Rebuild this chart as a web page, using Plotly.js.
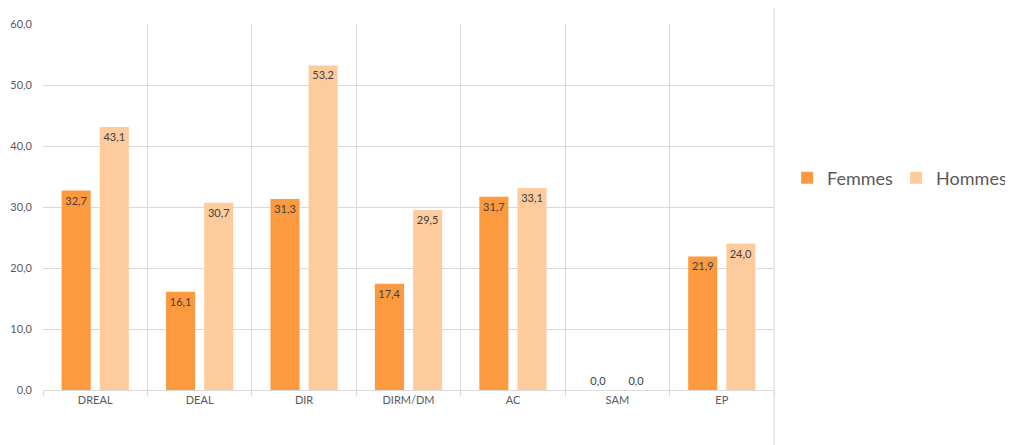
<!DOCTYPE html>
<html>
<head>
<meta charset="utf-8">
<script src="https://cdn.plot.ly/plotly-3.0.1.min.js"></script>
<style>html,body{margin:0;padding:0;background:#fff;}</style>
</head>
<body>
<div id="chart" style="width:1013px;height:445px;"></div>
<script>
const categories = ["DREAL", "DEAL", "DIR", "DIRM/DM", "AC", "SAM", "EP"];
const femmes = [32.7, 16.1, 31.3, 17.4, 31.7, 0.0, 21.9];
const hommes = [43.1, 30.7, 53.2, 29.5, 33.1, 0.0, 24.0];
const seriesNames = ["Femmes", "Hommes"];
const yTicks = [0, 10, 20, 30, 40, 50, 60];

const fontFam = "Lato, 'Open Sans', sans-serif";
const tf = {family: fontFam, size: 11, color: "#404040"};
function mk(vals, name, color) {
  return {
    type: "bar", x: categories, y: vals, name: name,
    marker: {color: color},
    texttemplate: "%{y:.1f}",
    textposition: vals.map(v => v > 0 ? "inside" : "outside"),
    insidetextanchor: "end",
    textangle: 0,
    constraintext: "none",
    cliponaxis: false,
    textfont: tf, insidetextfont: tf, outsidetextfont: tf,
    hoverinfo: "skip"
  };
}
const data = [mk(femmes, seriesNames[0], "#fd9a40"), mk(hommes, seriesNames[1], "#fecb9c")];
const layout = {
  width: 1013, height: 445,
  margin: {l: 43, r: 239, t: 24, b: 55, pad: 0, autoexpand: false},
  separators: ", ",
  paper_bgcolor: "#fff", plot_bgcolor: "#fff",
  font: {family: fontFam, color: "#595959"},
  barmode: "group",
  bargap: 0.27,
  bargroupgap: 0.237,
  showlegend: true,
  legend: {orientation: "h", xref: "container", yref: "container", x: 0.777, xanchor: "left", y: 0.6, yanchor: "middle",
           font: {size: 18, color: "#595959", family: fontFam}, itemwidth: 30,
           entrywidth: 64, entrywidthmode: "pixels", traceorder: "normal"},
  xaxis: {
    type: "category", tickson: "boundaries", showgrid: true, gridcolor: "#d9d9d9", gridwidth: 1,
    ticks: "outside", ticklen: 5, tickcolor: "#d9d9d9",
    showline: true, linecolor: "#d9d9d9", linewidth: 1,
    tickfont: {size: 11, color: "#595959"}, fixedrange: true
  },
  yaxis: {
    range: [0, 60], tickvals: yTicks, tickformat: ".1f",
    showgrid: true, gridcolor: "#d9d9d9", gridwidth: 1, zeroline: false,
    showline: false, ticks: "", ticklabelstandoff: 10,
    tickfont: {size: 11, color: "#595959"}, fixedrange: true
  },
  shapes: [{type: "line", xref: "paper", yref: "paper", x0: 1, x1: 1, y0: -0.15, y1: 1.045,
            line: {color: "#d9d9d9", width: 1}}]
};
Plotly.newPlot("chart", data, layout, {displayModeBar: false, staticPlot: true});
</script>
</body>
</html>
